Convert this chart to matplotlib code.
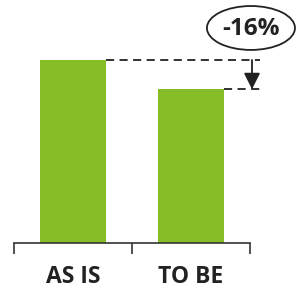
import matplotlib
matplotlib.use("Agg")
import matplotlib.pyplot as plt
from matplotlib.patches import Ellipse

categories = ["AS IS", "TO BE"]
values = [100, 84]
change_label = "-16%"

GREEN = "#86BC25"
DARK = "#222222"

fig = plt.figure(figsize=(3.08, 2.96), dpi=100)
ax = fig.add_axes([14 / 308, 53 / 296, 294 / 308, 243 / 296])

x = list(range(len(categories)))
bars = ax.bar(x, values, width=0.56, color=GREEN, edgecolor="none")

ax.set_xlim(-0.5, -0.5 + 294 / 118)
ax.set_ylim(0, 243 / 183 * 100)

for s in ["top", "right", "left"]:
    ax.spines[s].set_visible(False)
ax.spines["bottom"].set_bounds(-0.5, len(categories) - 0.5)
ax.spines["bottom"].set_color("#333333")
ax.spines["bottom"].set_linewidth(1.2)
ax.set_yticks([])

# ticks at category boundaries, labels at centers
ax.set_xticks([i - 0.5 for i in range(len(categories) + 1)])
ax.set_xticklabels([])
ax.tick_params(axis="x", which="major", length=8, width=1.2, color="#333333")
ax.set_xticks(x, minor=True)
ax.set_xticklabels(categories, minor=True, fontfamily="Open Sans",
                   fontweight="bold", fontsize=16.5, color=DARK)
ax.tick_params(axis="x", which="minor", length=0, pad=16)

# dashed reference lines
right1 = bars[0].get_x() + bars[0].get_width()
right2 = bars[1].get_x() + bars[1].get_width()
x_end = 1.585
ax.plot([right1, x_end], [values[0], values[0]], color=DARK, lw=1.3,
        dashes=(4.5, 3))
ax.plot([right2, x_end], [values[1], values[1]], color=DARK, lw=1.3,
        dashes=(4.5, 3))

# arrow down
x_arr = 1.517
ax.annotate("", xy=(x_arr, values[1]), xytext=(x_arr, values[0]),
            arrowprops=dict(arrowstyle="-|>,head_length=0.7,head_width=0.35",
                            color=DARK, lw=1.3, mutation_scale=14,
                            shrinkA=0, shrinkB=0))

# change label in ellipse
ell = Ellipse((1.508, 117.5), 0.746, 24, facecolor="white",
              edgecolor=DARK, lw=1.3, clip_on=False)
ax.add_patch(ell)
ax.text(1.508, 117.0, change_label, ha="center", va="center",
        fontfamily="Open Sans", fontweight="bold", fontsize=17.5, color=DARK)

fig.savefig("out.png", dpi=100)
